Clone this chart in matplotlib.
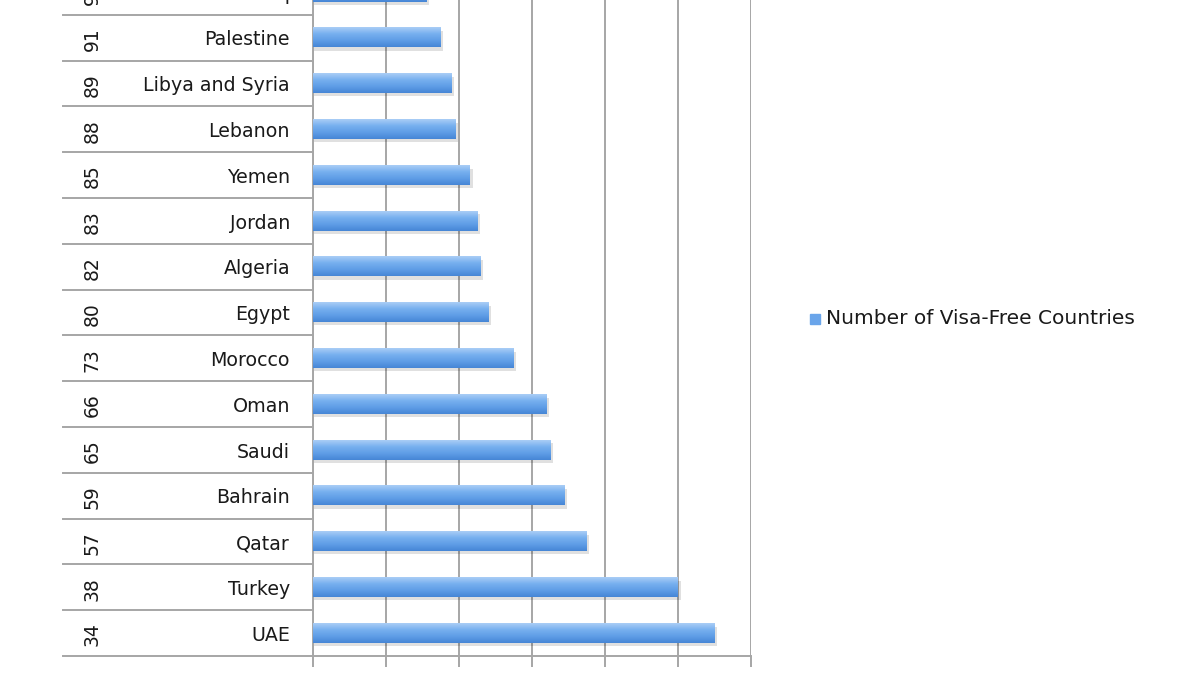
import numpy as np
import matplotlib
matplotlib.use("Agg")
import matplotlib.pyplot as plt
from matplotlib.colors import LinearSegmentedColormap
from matplotlib.patches import Rectangle

# data, bottom row first (Excel order)
countries = ["UAE", "Turkey", "Qatar", "Bahrain", "Saudi", "Oman", "Morocco",
             "Egypt", "Algeria", "Jordan", "Yemen", "Lebanon", "Libya and Syria",
             "Palestine", "Iraq"]
ranks = ["34", "38", "57", "59", "65", "66", "73", "80", "82", "83", "85",
         "88", "89", "91", "97"]
visa_free = [110, 100, 75, 69, 65, 64, 55, 48, 46, 45, 43, 39, 38, 35, 31]

W, H = 1200, 675
fig = plt.figure(figsize=(12, 6.75), dpi=100)
fig.patch.set_facecolor("white")

# plot area in pixels (top runs off the picture, like the cropped source)
x0, x1 = 313, 751
y_bot, y_top = 656, -31
ax = fig.add_axes([x0 / W, (H - y_bot) / H, (x1 - x0) / W, (y_bot - y_top) / H])

grid_c = "#a6a6a6"
n = len(countries)
ypos = np.arange(n)
bh = 0.42

cmap = LinearSegmentedColormap.from_list("bar", ["#aacdf6", "#77b0ef", "#5f9de6", "#4686d6"])
grad = np.linspace(0, 1, 64).reshape(-1, 1)

for y, v in zip(ypos, visa_free):
    # soft shadow
    ax.add_patch(Rectangle((0.4, y - bh / 2 - 0.07), v + 0.3, bh, color="#000000",
                           alpha=0.12, lw=0, zorder=2))
    ax.imshow(grad, cmap=cmap, extent=[0, v, y - bh / 2, y + bh / 2],
              aspect="auto", zorder=3, interpolation="bilinear")

ax.set_xlim(0, 120)
ax.set_ylim(-0.5, n - 0.5)
ax.set_xticks(np.arange(0, 121, 20))
ax.set_xticklabels([])
ax.set_yticks([])
ax.grid(axis="x", color=grid_c, lw=1.4, zorder=1)
ax.tick_params(axis="x", direction="out", length=8, width=1.4, color=grid_c)
for s in ["top", "right"]:
    ax.spines[s].set_visible(False)
for s in ["left", "bottom"]:
    ax.spines[s].set_color(grid_c)
    ax.spines[s].set_linewidth(1.4)

# category label table on the left
tr = ax.get_yaxis_transform()
left_edge = (63 - x0) / (x1 - x0)
name_x = (290 - x0) / (x1 - x0)
rank_x = (92 - x0) / (x1 - x0)
for b in np.arange(-0.5, n, 1.0):
    ax.plot([left_edge, 0], [b, b], color=grid_c, lw=1.4, transform=tr, clip_on=False)

for y, c, r in zip(ypos, countries, ranks):
    ax.text(name_x, y - 0.05, c, transform=tr, ha="right", va="center",
            fontsize=13.7, color="#1a1a1a")
    ax.text(rank_x, y - 0.03, r, transform=tr, ha="center", va="center",
            fontsize=13.5, color="#1a1a1a", rotation=90)

# legend
fig.patches.append(Rectangle((810 / W, (H - 324) / H), 10 / W, 10 / H,
                             transform=fig.transFigure, color="#6aa5ea"))
fig.text(826 / W, (H - 319) / H, "Number of Visa-Free Countries",
         ha="left", va="center", fontsize=14.5, color="#1a1a1a")

fig.savefig("out.png", dpi=100, facecolor="white")
